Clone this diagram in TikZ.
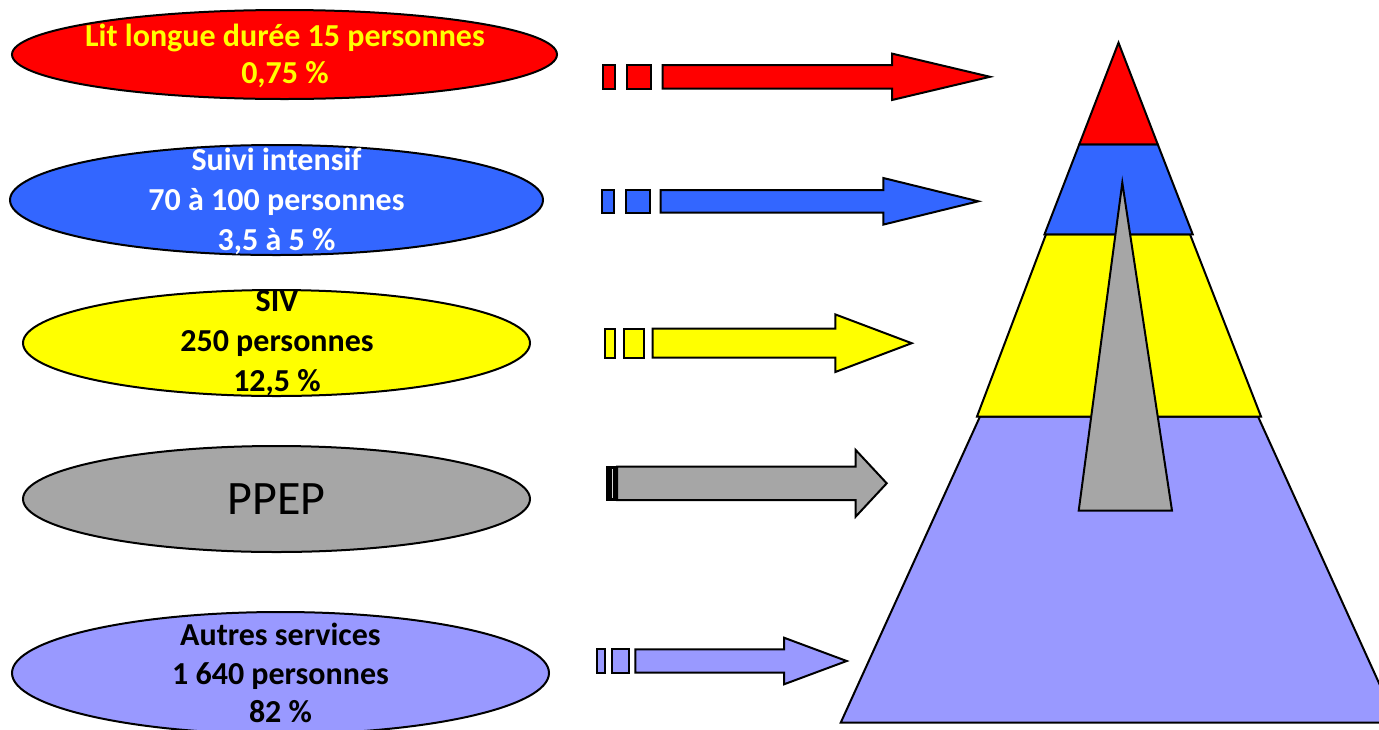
\documentclass[tikz,border=0pt]{standalone}
\usepackage{fontspec}
\setmainfont{Carlito}
\usetikzlibrary{shapes.geometric}
\definecolor{cred}{HTML}{FF0000}
\definecolor{cblue}{HTML}{3366FF}
\definecolor{cyel}{HTML}{FFFF00}
\definecolor{cgray}{HTML}{A6A6A6}
\definecolor{clav}{HTML}{9999FF}
\tikzset{
  outl/.style={draw=black, line width=2pt, line join=miter},
  oval/.style={ellipse, outl, inner sep=0pt},
  lbl/.style={align=center, inner sep=0pt, font=\bfseries\fontsize{32}{38.5}\selectfont},
}
% block arrow: fill, x rect2 start, x rect2 end/body start, x head base, x tip, y centre, body half, head half
\newcommand\blockarr[9]{%
  \path[outl, fill=#1] (#2,#7-#8) rectangle (#3,#7+#8);
  \path[outl, fill=#1] (#4,#7-#8) -- (#5,#7-#8) -- (#5,#7-#9) -- (#6,#7) -- (#5,#7+#9) -- (#5,#7+#8) -- (#4,#7+#8) -- cycle;
}
\begin{document}
\begin{tikzpicture}[x=1pt, y=-1pt]
\useasboundingbox (0,0) rectangle (1379,729);

% ---- ellipses ----
\node[oval, fill=cred,  minimum width=545pt, minimum height=89pt]  (e1) at (284.5,54.5) {};
\node[oval, fill=cblue, minimum width=533pt, minimum height=110pt] (e2) at (276.5,200) {};
\node[oval, fill=cyel,  minimum width=507pt, minimum height=106pt] (e3) at (276.5,343) {};
\node[oval, fill=cgray, minimum width=507pt, minimum height=106pt] (e4) at (276.5,499) {};
\node[oval, fill=clav,  minimum width=537pt, minimum height=122pt] (e5) at (280.5,673) {};

\node[lbl, text=cyel, font=\bfseries\fontsize{32}{37}\selectfont] (t1) at (285,56) {Lit longue durée 15 personnes\\0,75 \%};
\node[lbl, text=white, font=\bfseries\fontsize{32}{40}\selectfont] (t2) at (276.5,201) {Suivi intensif\\70 à 100 personnes\\3,5 à 5 \%};
\node[lbl, text=black, font=\bfseries\fontsize{32}{40}\selectfont] (t3) at (277,343) {SIV\\250 personnes\\12,5 \%};
\node[inner sep=0pt, text=black, font=\fontsize{48}{56}\selectfont] (t4) at (276.5,499) {PPEP};
\node[lbl, text=black, font=\bfseries\fontsize{32}{38.5}\selectfont] (t5) at (280.5,673) {Autres services\\1 640 personnes\\82 \%};

% ---- block arrows ----
% red
\path[outl, fill=cred] (602.7,65) rectangle (615,88.7);
\blockarr{cred}{626.7}{651.3}{662.7}{892}{990}{76.8}{11.8}{23.2}
% blue
\path[outl, fill=cblue] (601.7,190) rectangle (614.3,212.7);
\blockarr{cblue}{625.7}{649.7}{660.7}{883.3}{978.3}{201.3}{11.3}{23.3}
% yellow
\path[outl, fill=cyel] (604.7,328.7) rectangle (615.3,357.7);
\blockarr{cyel}{623.7}{644}{652.7}{835.3}{911.7}{343.2}{14.5}{28.8}
% gray
\path[fill=black] (605.7,466.2) rectangle (617,500.5);
\draw[white!85!black, line width=0.9pt] (612.5,469) -- (612.5,498);
\path[outl, fill=cgray] (617,466.7) -- (855.7,466.7) -- (855.7,450) -- (886.7,483.3) -- (855.7,516.6) -- (855.7,500) -- (617,500) -- cycle;
% lavender
\path[outl, fill=clav] (596.7,649.3) rectangle (605,672.7);
\blockarr{clav}{612}{629}{635.3}{784}{846.7}{661}{11.7}{23.3}

% ---- pyramid ----
\path[outl, fill=clav]  (980,416.5) -- (1258,416.5) -- (1397,722.7) -- (840.7,722.7) -- cycle;
\path[outl, fill=cyel]  (1046,234.3) -- (1190,234.3) -- (1261,416.5) -- (977,416.5) -- cycle;
\path[outl, fill=cblue] (1079.3,144.3) -- (1157.7,144.3) -- (1192.7,234.3) -- (1044.5,234.3) -- cycle;
\path[outl, fill=cred]  (1118.5,42.7) -- (1157.7,144.3) -- (1079.3,144.3) -- cycle;
\path[outl, fill=cgray] (1122.3,182.7) -- (1172,510.7) -- (1078.7,510.7) -- cycle;
\end{tikzpicture}
\end{document}
